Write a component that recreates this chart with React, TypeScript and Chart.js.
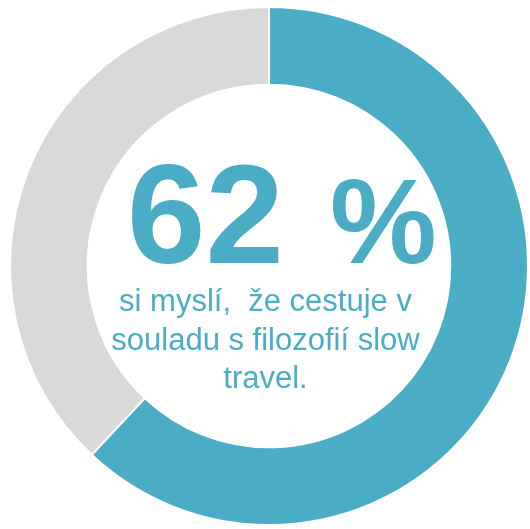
import React, { useEffect, useRef } from "react";
import { Chart, registerables } from "chart.js";

Chart.register(...registerables);

const categories = ["Ano", "Ne"];
const values = [62, 38];
const colors = ["#4BACC6", "#D9D9D9"];
const bigNumber = "62";
const bigUnit = "%";
const captionLines = ["si myslí,  že cestuje v", "souladu s filozofií slow", "travel."];

const centerText = {
  id: "centerText",
  afterDraw(chart: any) {
    const { ctx, chartArea } = chart;
    const cx = (chartArea.left + chartArea.right) / 2;
    const cy = (chartArea.top + chartArea.bottom) / 2;
    ctx.save();
    ctx.fillStyle = colors[0];
    ctx.textBaseline = "alphabetic";
    ctx.textAlign = "left";

    const drawInk = (t: string, inkLeft: number, y: number) => {
      const m = ctx.measureText(t);
      ctx.fillText(t, inkLeft + m.actualBoundingBoxLeft, y);
    };

    ctx.font = "bold 141px 'Liberation Sans', Arial, sans-serif";
    drawInk(bigNumber, cx - 137, cy - 3);
    ctx.font = "bold 120px 'Liberation Sans', Arial, sans-serif";
    drawInk(bigUnit, cx + 63, cy - 3);

    ctx.font = "31px 'Liberation Sans', Arial, sans-serif";
    ctx.textAlign = "center";
    const baselines = [45, 83.5, 122];
    captionLines.forEach((line, i) => {
      ctx.fillText(line, cx - 3.5, cy + baselines[i]);
    });
    ctx.restore();
  },
};

export default function App() {
  const ref = useRef<HTMLCanvasElement>(null);
  useEffect(() => {
    if (!ref.current) return;
    const chart = new Chart(ref.current, {
      type: "doughnut",
      data: {
        labels: categories,
        datasets: [
          {
            data: values,
            backgroundColor: colors,
            borderColor: "#ffffff",
            borderWidth: 2,
            hoverOffset: 0,
          },
        ],
      },
      options: {
        responsive: false,
        animation: false,
        radius: 259,
        cutout: "70%",
        layout: { padding: { left: 11, right: 3, top: 8, bottom: 5 } },
        plugins: {
          legend: { display: false },
          tooltip: { enabled: false },
        },
      },
      plugins: [centerText],
    });
    return () => chart.destroy();
  }, []);
  return (
    <div style={{ position: "fixed", left: 0, top: 0, width: 530, height: 529, background: "#fff" }}>
      <canvas ref={ref} width={530} height={529} />
    </div>
  );
}
